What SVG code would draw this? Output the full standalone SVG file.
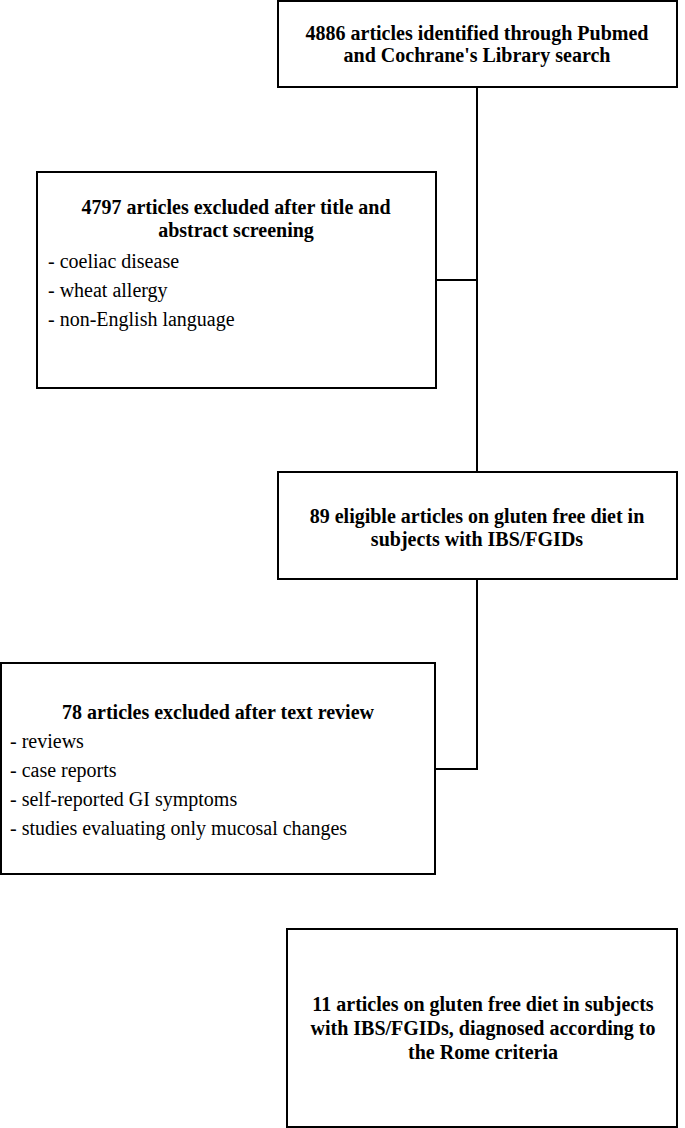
<svg xmlns="http://www.w3.org/2000/svg" width="685" height="1128" viewBox="0 0 685 1128">
<style>
.box{fill:#fff;stroke:#000;stroke-width:2}
.ln{fill:none;stroke:#000;stroke-width:2}
.b{font-family:"Liberation Serif","Times New Roman",serif;font-weight:bold;font-size:20px;text-anchor:middle;fill:#000}
.r{font-family:"Liberation Serif","Times New Roman",serif;font-size:20px;fill:#000}
</style>
<rect width="685" height="1128" fill="#fff"/>
<g id="connectors">
<line class="ln" x1="477" y1="87" x2="477" y2="472"/>
<line class="ln" x1="436" y1="280" x2="477" y2="280"/>
<polyline class="ln" points="477,579 477,769 435,769"/>
</g>
<g id="n1">
<rect class="box" x="278" y="1" width="399" height="86"/>
<text class="b" x="477" y="40">4886 articles identified through Pubmed</text>
<text class="b" x="477" y="62">and Cochrane's Library search</text>
</g>
<g id="n2">
<rect class="box" x="37" y="172" width="399" height="216"/>
<text class="b" x="236" y="214">4797 articles excluded after title and</text>
<text class="b" x="236" y="237">abstract screening</text>
<text class="r" x="48" y="268">- coeliac disease</text>
<text class="r" x="48" y="297">- wheat allergy</text>
<text class="r" x="48" y="326">- non-English language</text>
</g>
<g id="n3">
<rect class="box" x="278" y="472" width="399" height="107"/>
<text class="b" x="477" y="523">89 eligible articles on gluten free diet in</text>
<text class="b" x="477" y="546">subjects with IBS/FGIDs</text>
</g>
<g id="n4">
<rect class="box" x="1" y="663" width="434" height="211"/>
<text class="b" x="218" y="719">78 articles excluded after text review</text>
<text class="r" x="10" y="748">- reviews</text>
<text class="r" x="10" y="777">- case reports</text>
<text class="r" x="10" y="806">- self-reported GI symptoms</text>
<text class="r" x="10" y="835">- studies evaluating only mucosal changes</text>
</g>
<g id="n5">
<rect class="box" x="287" y="929" width="390" height="198"/>
<text class="b" x="483" y="1011">11 articles on gluten free diet in subjects</text>
<text class="b" x="483" y="1035">with IBS/FGIDs, diagnosed according to</text>
<text class="b" x="483" y="1059">the Rome criteria</text>
</g>
</svg>
